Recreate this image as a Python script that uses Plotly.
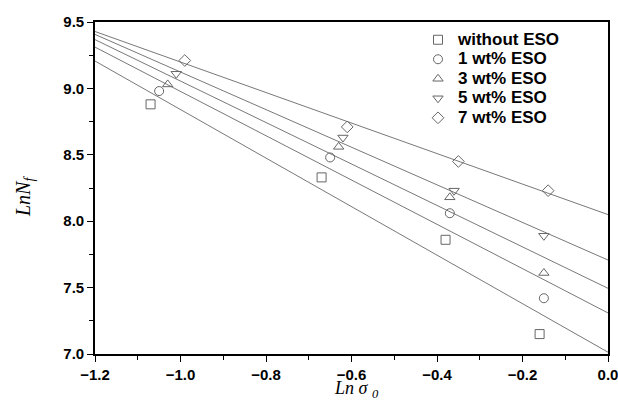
import numpy as np
import plotly.graph_objects as go

series_names = ["without ESO", "1 wt% ESO", "3 wt% ESO", "5 wt% ESO", "7 wt% ESO"]
symbols = ["square-open", "circle-open", "triangle-up-open", "triangle-down-open", "diamond-open"]

x_without = [-1.07, -0.67, -0.38, -0.16]
y_without = [8.88, 8.33, 7.86, 7.15]
x_1wt = [-1.05, -0.65, -0.37, -0.15]
y_1wt = [8.98, 8.48, 8.06, 7.42]
x_3wt = [-1.03, -0.63, -0.37, -0.15]
y_3wt = [9.03, 8.56, 8.18, 7.61]
x_5wt = [-1.01, -0.62, -0.36, -0.15]
y_5wt = [9.11, 8.63, 8.23, 7.89]
x_7wt = [-0.99, -0.61, -0.35, -0.14]
y_7wt = [9.21, 8.71, 8.45, 8.23]

xs = [x_without, x_1wt, x_3wt, x_5wt, x_7wt]
ys = [y_without, y_1wt, y_3wt, y_5wt, y_7wt]

x_range = [-1.2, 0.0]
y_range = [7.0, 9.5]

fig = go.Figure()
line_x = np.array(x_range)
for xv, yv in zip(xs, ys):
    k, b = np.polyfit(xv, yv, 1)
    fig.add_trace(go.Scatter(x=line_x, y=k * line_x + b, mode="lines",
                             line=dict(color="#555555", width=0.8),
                             showlegend=False, hoverinfo="skip"))
for name, sym, xv, yv in zip(series_names, symbols, xs, ys):
    fig.add_trace(go.Scatter(x=xv, y=yv, mode="markers",
                             name='<span style="font-size:17px">' + name + '</span>',
                             marker=dict(symbol=sym, size=9, color="#666666",
                                         line=dict(width=1, color="#666666"))))

axis_common = dict(showline=True, linecolor="black", linewidth=1.6, mirror=True,
                   ticks="outside", ticklen=6, tickwidth=1.3, tickcolor="black",
                   showgrid=False, zeroline=False, tickformat=".1f", automargin=False,
                   ticklabeloverflow="allow",
                   tickfont=dict(family="Liberation Sans, Arial", size=15, color="black", weight="bold"))

fig.update_xaxes(range=x_range, dtick=0.2, tick0=-1.2,
                 minor=dict(ticks="outside", ticklen=4, tickwidth=1, tickcolor="black", dtick=0.1),
                 **axis_common)
fig.update_yaxes(range=y_range, dtick=0.5, tick0=7.0,
                 minor=dict(ticks="outside", ticklen=4, tickwidth=1, tickcolor="black", dtick=0.25),
                 **axis_common)

fig.add_annotation(xref="paper", yref="paper", x=(356 - 95) / 513, y=-(389 - 354) / 332,
                   text="<i>Ln σ <sub>0</sub></i>", showarrow=False, yanchor="middle",
                   font=dict(family="Liberation Serif, Times New Roman", size=18, color="black"))
fig.add_annotation(xref="paper", yref="paper", x=-(95 - 24) / 513, y=(354 - 197) / 332,
                   text="<i>LnN<sub>f</sub></i>", showarrow=False, textangle=-90,
                   xanchor="center", yanchor="middle",
                   font=dict(family="Liberation Serif, Times New Roman", size=20, color="black"))

fig.update_layout(
    width=618, height=401,
    margin=dict(l=95, r=10, t=22, b=47),
    paper_bgcolor="white", plot_bgcolor="white",
    legend=dict(x=(418 - 95) / 513, y=(354 - 25) / 332, xanchor="left", yanchor="top",
                bgcolor="rgba(0,0,0,0)",
                font=dict(family="Liberation Sans, Arial", size=12.7, color="black", weight="bold"),
                tracegroupgap=0),
)

fig.write_html("out.html")
